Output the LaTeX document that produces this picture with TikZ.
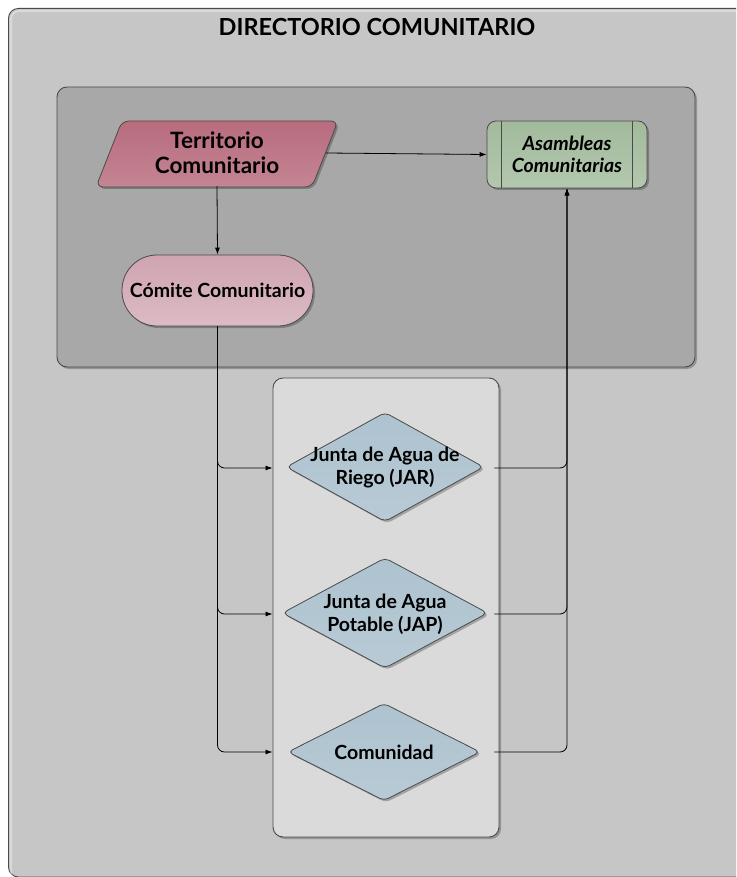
\documentclass[tikz,border=0pt]{standalone}
\usepackage{fontspec}
\setmainfont{Lato}
\usetikzlibrary{shapes.geometric,arrows.meta,shadows}
\definecolor{outerfill}{HTML}{C6C6C6}
\definecolor{darkgrp}{HTML}{A8A8A8}
\definecolor{lightgrp}{HTML}{DADADA}
\definecolor{edge}{HTML}{4A4A4A}
\definecolor{terA}{HTML}{B86C7E}
\definecolor{terB}{HTML}{C48593}
\definecolor{comA}{HTML}{CFA4B0}
\definecolor{comB}{HTML}{DBBBC4}
\definecolor{asaA}{HTML}{A2BA9C}
\definecolor{asaB}{HTML}{B3C8AE}
\definecolor{diaA}{HTML}{ADC3CF}
\definecolor{diaB}{HTML}{B8CAD5}
\tikzset{
  shd/.style={drop shadow={shadow xshift=2pt,shadow yshift=-2pt,opacity=0.25,fill=black}},
  grpbox/.style={draw=edge,line width=0.9pt,rounded corners=10pt,inner sep=0pt},
  txt/.style={font=\bfseries,align=center,inner sep=0pt},
  arr/.style={-{Latex[length=7pt,width=5pt]},line width=0.8pt,black},
  diashape/.style={draw=edge,line width=0.8pt,rounded corners=5pt,top color=diaA,bottom color=diaB,shd}
}
\newcommand\mydiamond[4]{\path[diashape] ({#1-#3/2},#2) -- (#1,{#2-#4/2}) -- ({#1+#3/2},#2) -- (#1,{#2+#4/2}) -- cycle;}
\begin{document}
\begin{tikzpicture}[x=1pt,y=-1pt]
\useasboundingbox (0,0) rectangle (736,877);
\fill[white] (0,0) rectangle (736,877);
\begin{scope}
\clip (0,0) rectangle (736,877);
\node[grpbox,fill=outerfill,minimum width=762pt,minimum height=868.5pt,anchor=north west] (outer) at (8,8) {};
\draw[white,opacity=0.35,line width=2pt,rounded corners=8pt] (11,876) -- (11,11) -- (760,11);
\end{scope}
\node[font=\bfseries\fontsize{23.5}{26}\selectfont] (title) at (377,27) {DIRECTORIO COMUNITARIO};
% dark group
\node[grpbox,fill=darkgrp,minimum width=638pt,minimum height=280pt,shd] (dgrp) at (376,227) {};
% light group
\node[grpbox,fill=lightgrp,minimum width=226pt,minimum height=459pt,shd] (lgrp) at (386,607.5) {};
% Territorio
\path[draw=edge,line width=0.8pt,rounded corners=7pt,top color=terA,bottom color=terB,shd]
  (96,187) -- (122,121) -- (338,121) -- (312,187) -- cycle;
\node[txt,font=\bfseries\fontsize{22.5}{25}\selectfont,minimum width=218pt,minimum height=66pt] (ter) at (217,153) {Territorio\\Comunitario};
% Comite
\node[txt,draw=edge,line width=0.8pt,rounded corners=35pt,top color=comA,bottom color=comB,minimum width=191pt,minimum height=71pt,shd,font=\bfseries\fontsize{19.5}{22}\selectfont] (com) at (217.5,290.5) {Cómite Comunitario};
% Asambleas
\node[txt,draw=edge,line width=0.8pt,rounded corners=9pt,top color=asaA,bottom color=asaB,minimum width=160pt,minimum height=67pt,shd,font=\bfseries\itshape\fontsize{19.5}{22}\selectfont] (asa) at (567,154.5) {Asambleas\\Comunitarias};
\draw[edge,line width=0.8pt] ([xshift=15pt]asa.north west) -- ([xshift=15pt]asa.south west);
\draw[edge,line width=0.8pt] ([xshift=-15pt]asa.north east) -- ([xshift=-15pt]asa.south east);
% diamonds
\mydiamond{385}{467}{197}{109}
\node[txt,font=\bfseries\fontsize{19.5}{23}\selectfont] (jar) at (385,468) {Junta de Agua de\\Riego (JAR)};
\mydiamond{385}{613}{205}{110}
\node[txt,font=\bfseries\fontsize{19.5}{23}\selectfont] (jap) at (385,614) {Junta de Agua\\Potable (JAP)};
\mydiamond{384}{752}{192}{97}
\node[txt,font=\bfseries\fontsize{19.5}{22}\selectfont] (cmd) at (384,752) {Comunidad};
% connectors
\draw[arr] (ter.south) -- (com.north);
\draw[arr] (ter.east) -- (asa.west);
\draw[arr,rounded corners=7pt] (com.south) |- (lgrp.west |- cmd);
\draw[arr,rounded corners=7pt] (com.south) |- (lgrp.west |- jap.center);
\draw[arr,rounded corners=7pt] (com.south) |- (lgrp.west |- jar.center);
\draw[arr,rounded corners=7pt] ([xshift=-5pt]lgrp.east |- cmd) -| (asa.south);
\draw[arr,rounded corners=7pt] ([xshift=-5pt]lgrp.east |- jap.center) -| (asa.south);
\draw[arr,rounded corners=7pt] ([xshift=-5pt]lgrp.east |- jar.center) -| (asa.south);
\end{tikzpicture}
\end{document}
